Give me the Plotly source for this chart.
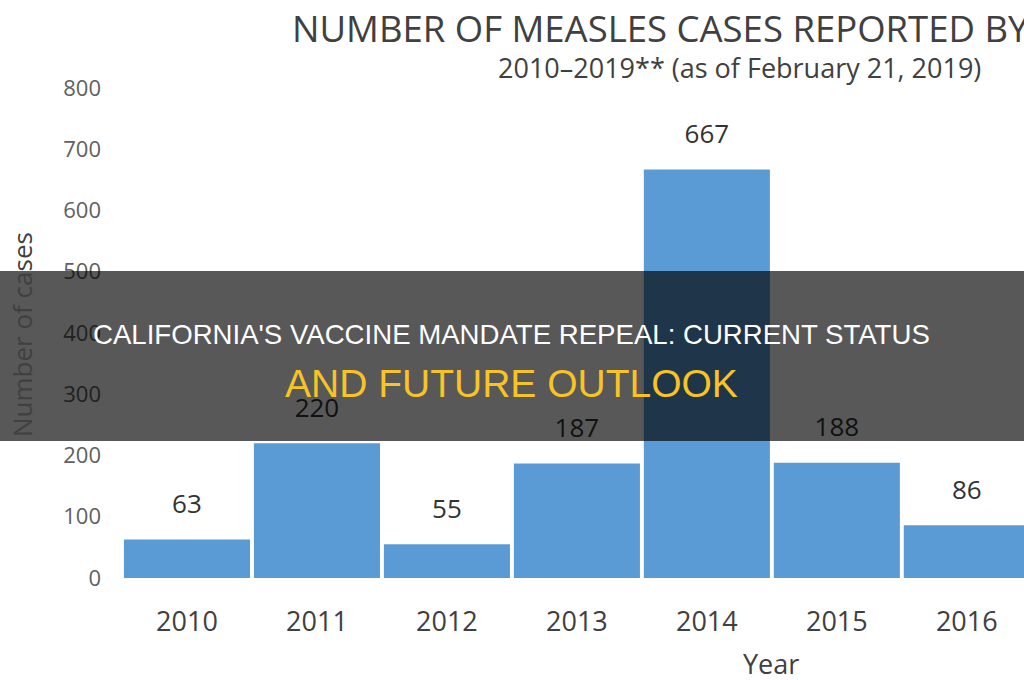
import plotly.graph_objects as go
import numpy as np

years = ["2010", "2011", "2012", "2013", "2014", "2015", "2016"]
cases = [63, 220, 55, 187, 667, 188, 86]
y_ticks = [0, 100, 200, 300, 400, 500, 600, 700, 800]

title_text = "NUMBER OF MEASLES CASES REPORTED BY"
subtitle_text = "2010–2019** (as of February 21, 2019)"
banner_line1 = "CALIFORNIA'S VACCINE MANDATE REPEAL: CURRENT STATUS"
banner_line2 = "AND FUTURE OUTLOOK"

W, H = 1024, 680
ml, mr, mt, mb = 122, 0, 88, 102
plot_h = H - mt - mb
plot_w = W - ml - mr
ymax = 800
px_per_unit = plot_h / ymax

def px_x(x):
    return (x - ml) / plot_w

def px_y(y):
    return (H - mb - y) / plot_h

label_offset = 33 / px_per_unit

fig = go.Figure()
fig.add_trace(go.Bar(
    x=years, y=cases,
    marker=dict(color="#5b9bd5", line=dict(width=0)),
    hoverinfo="skip",
))
fig.add_trace(go.Scatter(
    x=years, y=np.array(cases) + label_offset,
    mode="text", text=[str(v) for v in cases],
    textposition="middle center",
    textfont=dict(family="Open Sans", size=26, color="#333333"),
    hoverinfo="skip", cliponaxis=False,
))

fig.update_layout(
    width=W, height=H,
    margin=dict(l=ml, r=mr, t=mt, b=mb),
    paper_bgcolor="white", plot_bgcolor="white",
    showlegend=False, bargap=0.03,
    font=dict(family="Open Sans", color="#404040"),
    xaxis=dict(
        range=[-0.5, 6.44], showgrid=False, zeroline=False, showline=False,
        ticks="", tickfont=dict(size=27, color="#404040"),
        ticklabelstandoff=25,
    ),
    yaxis=dict(
        range=[0, ymax], tickvals=y_ticks, showgrid=False, zeroline=False,
        showline=False, ticks="", tickfont=dict(size=22, color="#606060"),
        ticklabelstandoff=20,
    ),
)

# Title and axis labels
fig.add_annotation(text=title_text, xref="paper", yref="paper",
                   x=px_x(290), y=px_y(28), xanchor="left", yanchor="middle",
                   showarrow=False, font=dict(family="Open Sans", size=36.5, color="#404040"))
fig.add_annotation(text=subtitle_text, xref="paper", yref="paper",
                   x=px_x(739), y=px_y(68), xanchor="center", yanchor="middle",
                   showarrow=False, font=dict(family="Open Sans", size=27, color="#404040"))
fig.add_annotation(text="Number of cases", xref="paper", yref="paper",
                   x=px_x(22), y=px_y(335), xanchor="center", yanchor="middle",
                   textangle=-90, showarrow=False,
                   font=dict(family="Open Sans", size=26, color="#404040"))
fig.add_annotation(text="Year", xref="paper", yref="paper",
                   x=px_x(771), y=px_y(663), xanchor="center", yanchor="middle",
                   showarrow=False, font=dict(family="Open Sans", size=27, color="#404040"))

# Dark banner overlay
fig.add_shape(type="rect", xref="paper", yref="paper",
              x0=px_x(0), x1=px_x(W), y0=px_y(441), y1=px_y(271),
              fillcolor="rgba(0,0,0,0.655)", line=dict(width=0), layer="above")
fig.add_annotation(text=banner_line1, xref="paper", yref="paper",
                   x=px_x(511), y=px_y(334), xanchor="center", yanchor="middle",
                   showarrow=False, font=dict(family="Liberation Sans", size=27.6, color="#ffffff"))
fig.add_annotation(text=banner_line2, xref="paper", yref="paper",
                   x=px_x(511), y=px_y(383), xanchor="center", yanchor="middle",
                   showarrow=False, font=dict(family="Liberation Sans", size=39, color="#f7c325"))

fig.write_html("out.html")
